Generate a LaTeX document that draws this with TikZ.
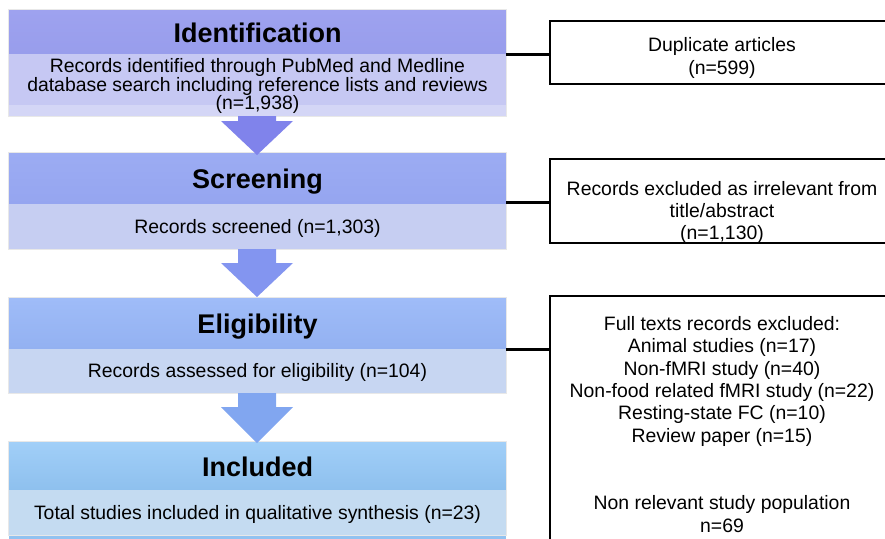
\documentclass[tikz,border=0pt]{standalone}
\usepackage{fontspec}
\setmainfont{Liberation Sans}
\usetikzlibrary{positioning}

\definecolor{idtop}{RGB}{158,162,239}
\definecolor{idbot}{RGB}{152,157,236}
\definecolor{idbody}{RGB}{198,200,243}
\definecolor{idstrip}{RGB}{212,214,246}
\definecolor{sctop}{RGB}{156,172,243}
\definecolor{scbot}{RGB}{149,165,240}
\definecolor{scbody}{RGB}{198,206,242}
\definecolor{eltop}{RGB}{159,188,248}
\definecolor{elbot}{RGB}{147,177,241}
\definecolor{elbody}{RGB}{199,214,242}
\definecolor{inctop}{RGB}{161,207,248}
\definecolor{incbot}{RGB}{142,192,238}
\definecolor{incbody}{RGB}{196,219,241}
\definecolor{incline}{RGB}{146,194,240}
\definecolor{arrowA}{RGB}{128,131,235}
\definecolor{arrowB}{RGB}{131,149,240}
\definecolor{arrowC}{RGB}{129,166,240}

\begin{document}
\begin{tikzpicture}[x=1pt, y=-1pt,
    stage/.style={minimum width=497pt, inner sep=0pt, text height=20pt, text depth=0pt,
        font=\fontsize{27}{30}\selectfont\bfseries},
    stagebody/.style={minimum width=497pt, inner sep=0pt, align=center, text height=13pt, text depth=0pt,
        font=\fontsize{19.4}{18.5}\selectfont},
    exbox/.style={draw, line width=2.6pt, minimum width=344pt, inner sep=0pt},
    extext/.style={align=center, inner sep=0pt, font=\fontsize{19.4}{22.4}\selectfont},
    link/.style={line width=3pt},
    faint/.style={draw=black!9, line width=0.8pt}]
    \useasboundingbox (0,0) rectangle (885,538);
    \clip (0,0) rectangle (885,538);

    % left column: stages
    \node[stage, top color=idtop, bottom color=idbot, minimum height=44pt] (idhead) at (257.5,32) {Identification};
    \node[stagebody, fill=idstrip, minimum height=62pt, below=0pt of idhead, text height=50pt, text depth=1pt,
        path picture={\fill[idbody] (path picture bounding box.north west) rectangle ([yshift=11pt]path picture bounding box.south east);}]
        (idbody) {Records identified through PubMed and Medline\\database search including reference lists and reviews\\(n=1,938)};

    \node[stage, top color=sctop, bottom color=scbot, minimum height=51pt] (schead) at (257.5,178.5) {Screening};
    \node[stagebody, fill=scbody, minimum height=45pt, below=0pt of schead] (scbody) {Records screened (n=1,303)};

    \node[stage, top color=eltop, bottom color=elbot, minimum height=51pt] (elhead) at (257.5,323.5) {Eligibility};
    \node[stagebody, fill=elbody, minimum height=44pt, below=0pt of elhead] (elbody) {Records assessed for eligibility (n=104)};

    \node[stage, top color=inctop, bottom color=incbot, minimum height=48pt] (inchead) at (257.5,466) {Included};
    \node[stagebody, fill=incbody, minimum height=45pt, below=0pt of inchead] (incbody) {Total studies included in qualitative synthesis (n=23)};
    \fill[incline] (incbody.south west) rectangle ([yshift=-3pt]incbody.south east);

    \foreach \h/\b in {idhead/idbody, schead/scbody, elhead/elbody, inchead/incbody}
        \draw[faint] (\h.north west) rectangle (\b.south east);

    % block arrows between stages
    \foreach \top/\neck/\tip/\col in {116/121/155/arrowA, 249/263/297/arrowB, 393/407/443/arrowC}
        \fill[\col] (238,\top) -- (276,\top) -- (276,\neck) -- (293,\neck) -- (257,\tip)
            -- (221,\neck) -- (238,\neck) -- cycle;

    % right column: exclusions
    \node[exbox, minimum height=63pt] (dup) at (722,52.5) {};
    \node[extext] (duptext) at ([yshift=-5.5pt]dup.center) {Duplicate articles\\(n=599)};

    \node[exbox, minimum height=84pt] (irr) at (722,201) {};
    \node[extext] (irrtext) at ([yshift=-11.5pt]irr.center) {Records excluded as irrelevant from\\title/abstract\\(n=1,130)};

    \node[exbox, minimum height=250pt] (full) at (722,421) {};
    \node[extext] (fulltext) at ([yshift=-129.5pt]full.north) {Full texts records excluded:\\Animal studies (n=17)\\Non-fMRI study (n=40)\\Non-food related fMRI study (n=22)\\Resting-state FC (n=10)\\Review paper (n=15)\\[45pt]Non relevant study population\\n=69};

    \draw[link] (idhead.south east) -- (idhead.south east -| dup.west);
    \draw[link] ([yshift=2pt]schead.south east) -- ([yshift=2pt]schead.south east -| irr.west);
    \draw[link] (elhead.south east) -- (elhead.south east -| full.west);
\end{tikzpicture}
\end{document}
